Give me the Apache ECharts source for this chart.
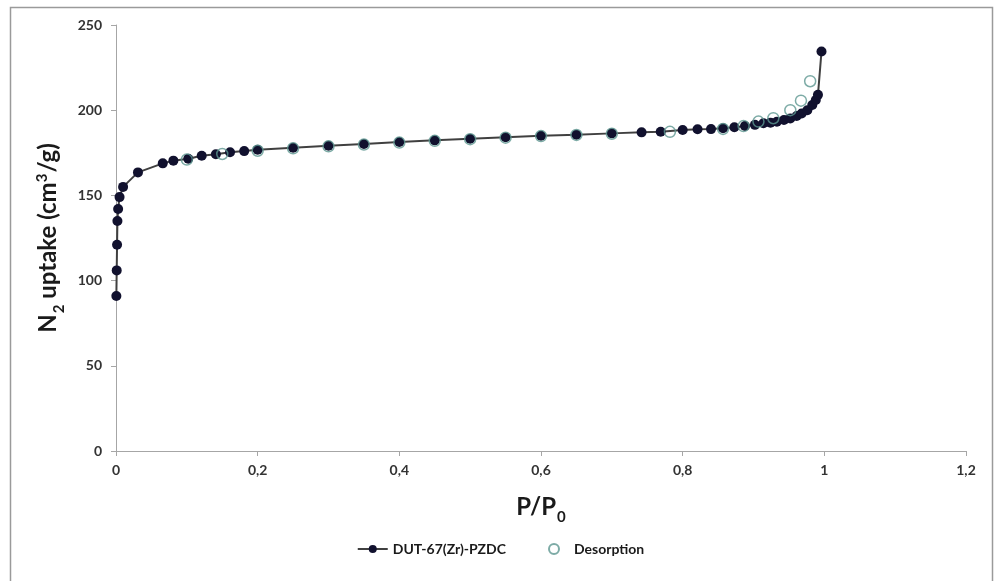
<!DOCTYPE html>
<html>
<head>
<meta charset="utf-8">
<script src="https://cdn.jsdelivr.net/npm/echarts@6/dist/echarts.min.js"></script>
<style>
html,body{margin:0;padding:0;background:#fff;}
#chart{width:1001px;height:581px;}
</style>
</head>
<body>
<div id="chart"></div>
<script>
// Adsorption branch (P/P0, uptake)
const adsX = [0.0005,0.001,0.0015,0.002,0.003,0.005,0.010,0.031,0.066,0.081,0.102,0.121,0.141,0.161,0.181,0.200,0.250,0.300,0.350,0.400,0.450,0.500,0.550,0.600,0.650,0.700,0.742,0.769,0.800,0.821,0.840,0.857,0.873,0.888,0.902,0.914,0.924,0.933,0.943,0.952,0.961,0.968,0.976,0.983,0.988,0.991,0.996];
const adsY = [91,106,121,135,142,149,155,163.5,168.8,170.4,171.5,173.3,174.2,175.3,176,176.8,178,179.2,180.2,181.3,182.3,183.2,184.1,185,185.6,186.4,187,187.4,188.4,188.8,188.9,189.4,190,190.7,191.4,192.3,192.7,193.2,194.2,195.2,196.6,198.1,200,203,206,209,234.5];
// Desorption branch
const desX = [0.100,0.150,0.200,0.250,0.300,0.350,0.400,0.450,0.500,0.550,0.600,0.650,0.700,0.782,0.857,0.886,0.907,0.928,0.952,0.967,0.980];
const desY = [171,174.3,176.2,177.6,178.8,179.8,181,182,183,183.9,184.8,185.5,186.2,187.3,189,190.7,193.3,195.3,200,205.6,217];
const seriesNames = ['DUT-67(Zr)-PZDC','Desorption'];
const xTicks = {min:0,max:1.2,interval:0.2};
const yTicks = {min:0,max:250,interval:50};

const ads = adsX.map((x,i)=>[x,adsY[i]]);
const des = desX.map((x,i)=>[x,desY[i]]);

const chart = echarts.init(document.getElementById('chart'));
const FONT = 'Lato, "Open Sans", sans-serif';
const nameRich = {
  b:{fontFamily:FONT,fontWeight:'bold',fontSize:24,color:'#1a1a1a'},
  s:{fontFamily:FONT,fontWeight:'bold',fontSize:15,color:'#1a1a1a',verticalAlign:'bottom',padding:[0,0,-6,1]},
  p:{fontFamily:FONT,fontWeight:'bold',fontSize:15,color:'#1a1a1a',verticalAlign:'top',padding:[-2,1,0,0]}
};
chart.setOption({
  animation:false,
  backgroundColor:'#fff',
  graphic:[{type:'rect',shape:{x:10.5,y:7.5,width:982,height:580},style:{fill:'none',stroke:'#9a9a9a',lineWidth:1.5},silent:true,z:-1}],
  grid:{left:116,right:35,top:25,bottom:130},
  xAxis:{
    type:'value',min:xTicks.min,max:xTicks.max,interval:xTicks.interval,
    name:'{b|P/P}{s|0}',nameLocation:'middle',nameGap:44,
    nameTextStyle:{rich:nameRich},
    axisLine:{show:true,onZero:false,lineStyle:{color:'#a6a6a6',width:1}},
    axisTick:{show:true,length:5,lineStyle:{color:'#a6a6a6'}},
    splitLine:{show:false},
    axisLabel:{margin:12,fontFamily:FONT,fontWeight:'bold',fontSize:14,color:'#333',
      formatter:v=>String(Math.round(v*10)/10).replace('.',',')}
  },
  yAxis:{
    type:'value',min:yTicks.min,max:yTicks.max,interval:yTicks.interval,
    name:'{b|N}{s|2}{b| uptake (cm}{p|3}{b|/g)}',nameLocation:'middle',nameGap:48,
    nameTextStyle:{rich:nameRich},
    axisLine:{show:true,lineStyle:{color:'#a6a6a6',width:1}},
    axisTick:{show:true,length:5,lineStyle:{color:'#a6a6a6'}},
    splitLine:{show:false},
    axisLabel:{margin:14,fontFamily:FONT,fontWeight:'bold',fontSize:14,color:'#333'}
  },
  legend:{
    bottom:20,left:'center',itemGap:42,itemWidth:30,itemHeight:10,
    textStyle:{fontFamily:FONT,fontWeight:'bold',fontSize:14,color:'#1a1a1a'},
    data:seriesNames
  },
  series:[
    {name:seriesNames[0],type:'line',data:ads,symbol:'circle',symbolSize:10,
      lineStyle:{color:'#404040',width:2},itemStyle:{color:'#11112e'},z:2},
    {name:seriesNames[1],type:'scatter',data:des,symbol:'circle',symbolSize:11,
      itemStyle:{color:'rgba(255,255,255,0)',borderColor:'#5c9690',borderWidth:1.5},z:3}
  ]
});
</script>
</body>
</html>
